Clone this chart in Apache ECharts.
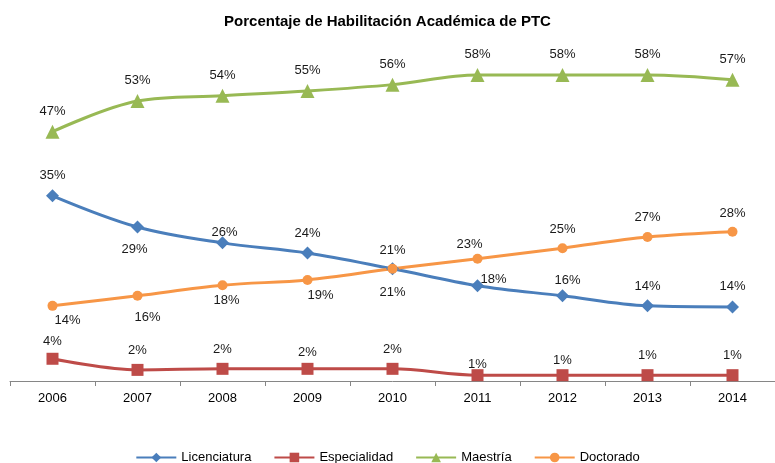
<!DOCTYPE html>
<html><head><meta charset="utf-8">
<script src="https://cdn.jsdelivr.net/npm/echarts@6/dist/echarts.min.js"></script>
<style>html,body{margin:0;padding:0;background:#fff}#c{width:775px;height:463px}</style>
</head><body><div id="c"></div>
<script>
const years = ['2006','2007','2008','2009','2010','2011','2012','2013','2014'];
const licenciatura = [35.0, 29.1, 26.1, 24.2, 21.2, 18.0, 16.1, 14.2, 14.0];
const especialidad = [4.2, 2.1, 2.3, 2.3, 2.3, 1.1, 1.1, 1.1, 1.1];
const maestria = [47.1, 52.9, 53.9, 54.8, 56.0, 57.8, 57.8, 57.8, 56.9];
const doctorado = [14.2, 16.1, 18.1, 19.1, 21.2, 23.1, 25.1, 27.2, 28.2];

// label placement (style only)
const licPos = ['top','bottom','top','top','top','top','top','top','top'];
const licOff = [[0,0],[-3,2],[2,10],[0,0],[0,2],[16,14],[5,5],[0,1],[0,0]];
const docPos = ['bottom','bottom','bottom','bottom','bottom','top','top','top','top'];
const docOff = [[15,-4],[10,3],[4,-3],[13,-3],[0,5],[-8,4],[0,0],[0,-1],[0,0]];
const espOff = [[0,2],[0,0],[0,0],[0,3],[0,0],[0,9],[0,5],[0,0],[0,0]];

const fontFam = '"Liberation Sans", Arial, sans-serif';
function mk(name, vals, color, symbol, size, positions, offsets) {
  return {
    name, type: 'line', smooth: 0.35, data: vals.map((v, i) => ({
      value: v,
      label: { position: positions ? positions[i] : 'top', offset: offsets ? offsets[i] : [0,0] }
    })),
    symbol, symbolSize: size,
    lineStyle: { color, width: 3 },
    itemStyle: { color },
    label: {
      show: true, distance: 7, color: '#1a1a1a', fontSize: 13, fontFamily: fontFam,
      formatter: p => Math.round(p.value) + '%'
    }
  };
}
const chart = echarts.init(document.getElementById('c'));
chart.setOption({
  animation: false,
  title: { text: 'Porcentaje de Habilitación Académica de PTC', left: 'center', top: 9,
    textStyle: { fontFamily: fontFam, fontWeight: 'bold', fontSize: 15, color: '#000' } },
  grid: { left: 10, width: 774, top: 37, bottom: 82 },
  legend: { bottom: -6, left: 'center', itemWidth: 40, itemHeight: 12, itemGap: 22,
    textStyle: { fontFamily: fontFam, fontSize: 13, color: '#000' },
    data: ['Licenciatura','Especialidad','Maestría','Doctorado'] },
  xAxis: { type: 'category', data: years, boundaryGap: true,
    axisLine: { lineStyle: { color: '#868686', width: 1 } },
    axisTick: { show: true, length: 5, lineStyle: { color: '#868686' } },
    axisLabel: { color: '#000', fontSize: 13, fontFamily: fontFam, margin: 11 } },
  yAxis: { type: 'value', min: 0, max: 65, show: false, splitLine: { show: false } },
  series: [
    mk('Licenciatura', licenciatura, '#4a7ebb', 'diamond', 13, licPos, licOff),
    mk('Especialidad', especialidad, '#be4b48', 'rect', 12, null, espOff),
    mk('Maestría', maestria, '#98b954', 'triangle', 14, null, null),
    mk('Doctorado', doctorado, '#f79646', 'circle', 10, docPos, docOff)
  ]
});
</script></body></html>
